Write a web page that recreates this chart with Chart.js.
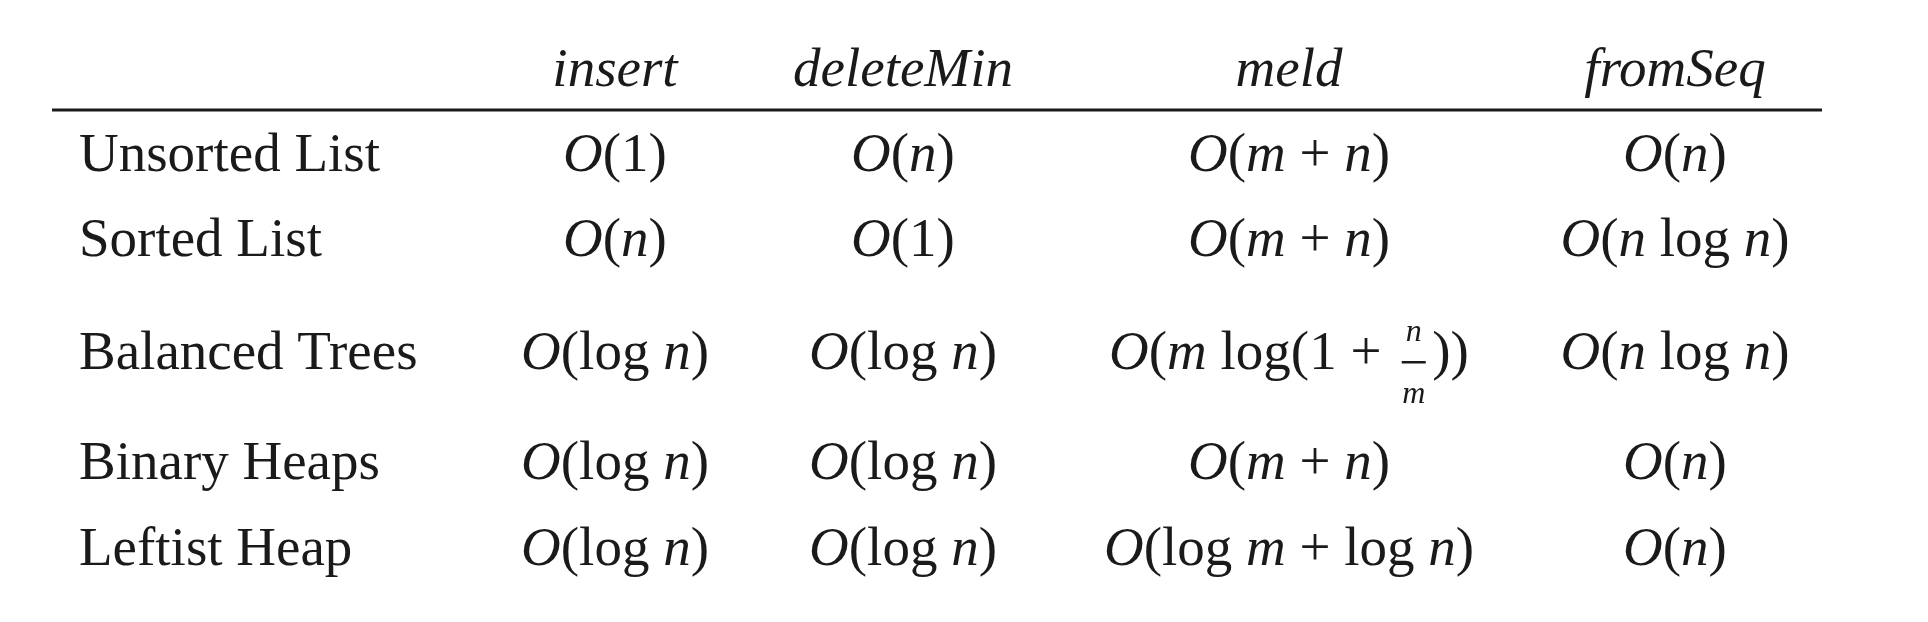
<!DOCTYPE html><html><head><meta charset="utf-8">
<script src="https://cdn.jsdelivr.net/npm/chart.js@4"></script>
<style>html,body{margin:0;background:#fff}#w{width:1928px;height:622px}</style></head><body>
<div id="w"><canvas id="c"></canvas></div>
<script>
const columns = ["insert", "deleteMin", "meld", "fromSeq"];
const rows = ["Unsorted List", "Sorted List", "Balanced Trees", "Binary Heaps", "Leftist Heap"];
// cell markup: *x* = italic, |frac| = fraction n/m
const insertCol = ["*O*(1)", "*O*(*n*)", "*O*(log *n*)", "*O*(log *n*)", "*O*(log *n*)"];
const deleteMinCol = ["*O*(*n*)", "*O*(1)", "*O*(log *n*)", "*O*(log *n*)", "*O*(log *n*)"];
const meldCol = ["*O*(*m* + *n*)", "*O*(*m* + *n*)", "*O*(*m* log(1 + |frac|))", "*O*(*m* + *n*)", "*O*(log *m* + log *n*)"];
const fromSeqCol = ["*O*(*n*)", "*O*(*n* log *n*)", "*O*(*n* log *n*)", "*O*(*n*)", "*O*(*n*)"];
const cells = [insertCol, deleteMinCol, meldCol, fromSeqCol];

// layout (positions in the chart's value space)
const colX = [615, 903, 1289, 1675];
const rowY = [157, 242, 355, 465, 551];
const labelX = 79, headerY = 82, ruleY = 110;
const FS = 55, FONT = "'Liberation Serif', 'DejaVu Serif', serif";

function segs(str){
  const out=[]; const parts=str.split('*');
  parts.forEach((p,i)=>{ if(!p) return;
    if(p.includes('|frac|')){ const [a,b]=p.split('|frac|'); if(a) out.push({t:a,it:i%2==1}); out.push({frac:true}); if(b) out.push({t:b,it:i%2==1}); }
    else out.push({t:p,it:i%2==1}); });
  return out;
}
function fontOf(it,size){return (it?'italic ':'')+size+'px '+FONT;}
function drawRich(ctx,str,cx,cy){
  const s=segs(str); let w=0;
  s.forEach(g=>{ if(g.frac){ctx.font=fontOf(true,32); g.w=ctx.measureText('m').width+14;} else {ctx.font=fontOf(g.it,FS); g.w=ctx.measureText(g.t).width;} w+=g.w; });
  let x=cx-w/2;
  s.forEach(g=>{
    if(g.frac){
      ctx.font=fontOf(true,32); ctx.textAlign='center';
      const mx=x+g.w/2;
      ctx.fillText('n',mx,cy-22);
      ctx.fillRect(mx-12,cy+6,24,2.5);
      ctx.fillText('m',mx,cy+40);
      ctx.textAlign='left';
    } else { ctx.font=fontOf(g.it,FS); ctx.fillText(g.t,x,cy); }
    x+=g.w;
  });
}
const tablePlugin={id:'table',afterDraw(ch){
  const ctx=ch.ctx, xs=ch.scales.x, ys=ch.scales.y;
  ctx.save(); ctx.fillStyle='#1a1a1a'; ctx.textBaseline='middle';
  columns.forEach((c,i)=>{ ctx.font=fontOf(true,FS); ctx.textAlign='center'; ctx.fillText(c,xs.getPixelForValue(colX[i]),ys.getPixelForValue(headerY)-10); });
  ctx.fillRect(xs.getPixelForValue(52),ys.getPixelForValue(ruleY)-1.5,xs.getPixelForValue(1822)-xs.getPixelForValue(52),3);
  ctx.textAlign='left';
  rows.forEach((r,j)=>{ ctx.font=fontOf(false,FS); ctx.fillText(r,xs.getPixelForValue(labelX),ys.getPixelForValue(rowY[j])); });
  cells.forEach((col,i)=>col.forEach((v,j)=>drawRich(ctx,v,xs.getPixelForValue(colX[i]),ys.getPixelForValue(rowY[j]))));
  ctx.restore();
}};
new Chart(document.getElementById('c'),{type:'scatter',
  data:{datasets:[{data:[],pointRadius:0}]},
  options:{responsive:true,maintainAspectRatio:false,animation:false,layout:{padding:0},
    plugins:{legend:{display:false},tooltip:{enabled:false}},
    scales:{x:{type:'linear',min:0,max:1928,display:false},y:{type:'linear',min:0,max:622,reverse:true,display:false}}},
  plugins:[tablePlugin]});
</script></body></html>
